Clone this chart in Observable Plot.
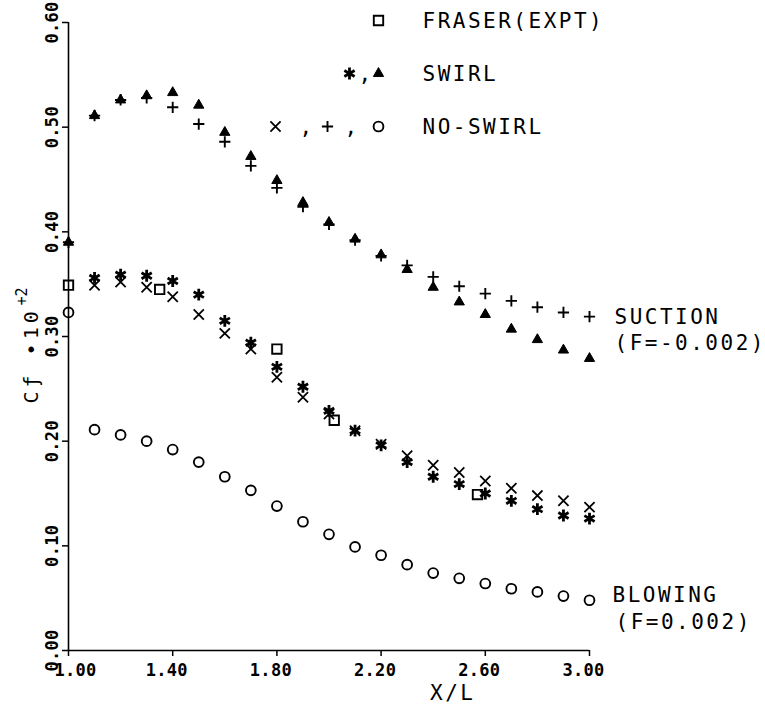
<!DOCTYPE html>
<html>
<head>
<meta charset="utf-8">
<script src="https://cdn.jsdelivr.net/npm/d3@7"></script>
<script src="https://cdn.jsdelivr.net/npm/@observablehq/plot@0.6"></script>
<style>
  html, body { margin: 0; padding: 0; background: #fff; }
  svg { display: block; }
  g[font-size="21"] text { letter-spacing: 2.5px; }
  g[font-size="20"] text { letter-spacing: 4px; }
  g[font-size="17"] text { letter-spacing: 0.3px; }
</style>
</head>
<body>
<div id="chart"></div>
<script>
// ---- data ----
const xs = [1.0, 1.1, 1.2, 1.3, 1.4, 1.5, 1.6, 1.7, 1.8, 1.9, 2.0, 2.1, 2.2, 2.3, 2.4, 2.5, 2.6, 2.7, 2.8, 2.9, 3.0];

// suction (F = -0.002)
const swirlSuction   = [0.390, 0.511, 0.526, 0.530, 0.533, 0.521, 0.495, 0.472, 0.449, 0.428, 0.409, 0.393, 0.378, 0.364, 0.347, 0.333, 0.321, 0.307, 0.297, 0.287, 0.279];
const noSwirlSuction = [0.390, 0.511, 0.526, 0.528, 0.519, 0.503, 0.486, 0.463, 0.442, 0.424, 0.407, 0.392, 0.377, 0.368, 0.357, 0.348, 0.341, 0.334, 0.328, 0.323, 0.319];

// no transpiration
const swirlZero   = [null, 0.356, 0.359, 0.358, 0.353, 0.340, 0.315, 0.294, 0.271, 0.252, 0.229, 0.210, 0.196, 0.180, 0.166, 0.159, 0.150, 0.143, 0.135, 0.129, 0.126];
const noSwirlZero = [null, 0.349, 0.352, 0.347, 0.338, 0.321, 0.303, 0.288, 0.261, 0.242, 0.226, 0.210, 0.197, 0.186, 0.177, 0.170, 0.162, 0.155, 0.148, 0.143, 0.137];

// blowing (F = 0.002)
const noSwirlBlowing = [0.323, 0.211, 0.206, 0.200, 0.192, 0.180, 0.166, 0.153, 0.138, 0.123, 0.111, 0.099, 0.091, 0.082, 0.074, 0.069, 0.064, 0.059, 0.056, 0.052, 0.048];

// Fraser experiment
const fraserX = [1.00, 1.35, 1.80, 2.02, 2.57];
const fraserY = [0.349, 0.345, 0.288, 0.220, 0.149];

// ticks
const xTicks = [1.0, 1.4, 1.8, 2.2, 2.6, 3.0];
const xTickLabels = ["1.00", "1.40", "1.80", "2.20", "2.60", "3.00"];
const yTicks = [0.0, 0.1, 0.2, 0.3, 0.4, 0.5, 0.6];
const yTickLabels = ["0.00", "0.10", "0.20", "0.30", "0.40", "0.50", "0.60"];

// texts
const xLabel = "X/L";
const yLabelMain = "C\u0192 \u202210";
const yLabelSup = "+2";
const legendFraser = "FRASER(EXPT)";
const legendSwirl = "SWIRL";
const legendNoSwirl = "NO-SWIRL";
const suctionLines = ["SUCTION", "(F=-0.002)"];
const blowingLines = ["BLOWING", "(F=0.002)"];

// ---- helpers ----
const idx = (arr) => arr.map((v, i) => i).filter((i) => arr[i] != null);
const series = (arr, opts) => Plot.dot(idx(arr), {x: (i) => xs[i], y: (i) => arr[i], ...opts});

const SYM = {
  circle:   {symbol: "circle",   r: 4.9, stroke: "black", strokeWidth: 1.9, fill: "none"},
  square:   {symbol: "square",   r: 5.3, stroke: "black", strokeWidth: 1.9, fill: "none"},
  times:    {symbol: "times",    r: 4.7, stroke: "black", strokeWidth: 1.8},
  asterisk: {symbol: "asterisk", r: 5.6, stroke: "black", strokeWidth: 2.8},
  plus:     {symbol: "plus",     r: 3.7, stroke: "black", strokeWidth: 1.9},
  triangle: {symbol: "triangle", r: 3.8, fill: "black", stroke: "black", strokeWidth: 1}
};

const big = {fontSize: 21, fill: "black"};
const tickFont = {fontSize: 17, fontWeight: "bold", fill: "black"};
const lastI = xs.length - 1;

// legend helpers (pixel offsets relative to the top-left of the frame)
const legDot = (sym, dx, dy) => Plot.dot([0], {frameAnchor: "top-left", dx, dy, ...SYM[sym]});
const legText = (t, dx, dy) => Plot.text([t], {frameAnchor: "top-left", text: (d) => d, dx, dy, textAnchor: "start", lineAnchor: "middle", ...big});

const chart = Plot.plot({
  width: 765,
  height: 704,
  marginLeft: 68,
  marginRight: 176,
  marginTop: 22,
  marginBottom: 54,
  style: {fontFamily: "'DejaVu Sans Mono', monospace", background: "white", color: "black"},
  x: {domain: [1, 3]},
  y: {domain: [0, 0.6]},
  marks: [
    // axis lines
    Plot.ruleX([1.0], {stroke: "black", strokeWidth: 1.6}),
    Plot.ruleY([0.0], {stroke: "black", strokeWidth: 1.6}),
    // tick marks
    Plot.axisY({ticks: yTicks, tickFormat: () => "", tickSize: 6, stroke: "black", strokeWidth: 1.5, label: null}),
    Plot.axisX({ticks: xTicks, tickFormat: () => "", tickSize: 6, stroke: "black", strokeWidth: 1.5, label: null}),
    // tick labels
    Plot.text(yTicks, {
      y: (d) => d, frameAnchor: "left", text: (d, i) => yTickLabels[i],
      rotate: -90, dx: -11, textAnchor: "middle", lineAnchor: "bottom", ...tickFont
    }),
    Plot.text(xTicks.slice(0, 1), {
      x: (d) => d, frameAnchor: "bottom", text: (d, i) => xTickLabels[i],
      dy: 13, dx: 7, lineAnchor: "top", ...tickFont
    }),
    Plot.text(xTicks.slice(1), {
      x: (d) => d, frameAnchor: "bottom", text: (d, i) => xTickLabels[i + 1],
      dy: 13, dx: -6, lineAnchor: "top", ...tickFont
    }),
    // axis titles
    Plot.text([xLabel], {frameAnchor: "bottom-right", text: (d) => d, dx: -114, dy: 43, lineAnchor: "middle", ...big}),
    Plot.text([yLabelMain], {frameAnchor: "left", text: (d) => d, dx: -31, dy: 67, rotate: -90, textAnchor: "start", lineAnchor: "bottom", fontSize: 20, fill: "black"}),
    Plot.text([yLabelSup], {frameAnchor: "left", text: (d) => d, dx: -42, dy: -31, rotate: -90, textAnchor: "start", lineAnchor: "bottom", fontSize: 15, fill: "black"}),

    // data
    series(noSwirlBlowing, SYM.circle),
    Plot.dot(fraserX.map((v, i) => i), {x: (i) => fraserX[i], y: (i) => fraserY[i], ...SYM.square}),
    series(noSwirlZero, SYM.times),
    series(swirlZero, SYM.asterisk),
    series(noSwirlSuction, SYM.plus),
    series(swirlSuction, SYM.triangle),

    // curve annotations, anchored at the last point of each group
    Plot.text([lastI], {x: (i) => xs[i], y: (i) => noSwirlSuction[i], text: () => suctionLines[0], dx: 25, dy: 1, textAnchor: "start", lineAnchor: "middle", ...big}),
    Plot.text([lastI], {x: (i) => xs[i], y: (i) => noSwirlSuction[i], text: () => suctionLines[1], dx: 25, dy: 27, textAnchor: "start", lineAnchor: "middle", ...big}),
    Plot.text([lastI], {x: (i) => xs[i], y: (i) => noSwirlBlowing[i], text: () => blowingLines[0], dx: 23, dy: -5, textAnchor: "start", lineAnchor: "middle", ...big}),
    Plot.text([lastI], {x: (i) => xs[i], y: (i) => noSwirlBlowing[i], text: () => blowingLines[1], dx: 26, dy: 22, textAnchor: "start", lineAnchor: "middle", ...big}),

    // legend
    legDot("square", 310, -2),
    legText(legendFraser, 354, -1),
    legDot("asterisk", 281, 51),
    legText(",", 290, 52),
    legDot("triangle", 310, 51),
    legText(legendSwirl, 354, 52),
    legDot("times", 207, 104),
    legText(",", 231, 105),
    legDot("plus", 259, 104),
    legText(",", 276, 105),
    legDot("circle", 310, 104),
    legText(legendNoSwirl, 354, 105)
  ]
});

document.getElementById("chart").appendChild(chart);
</script>
</body>
</html>
